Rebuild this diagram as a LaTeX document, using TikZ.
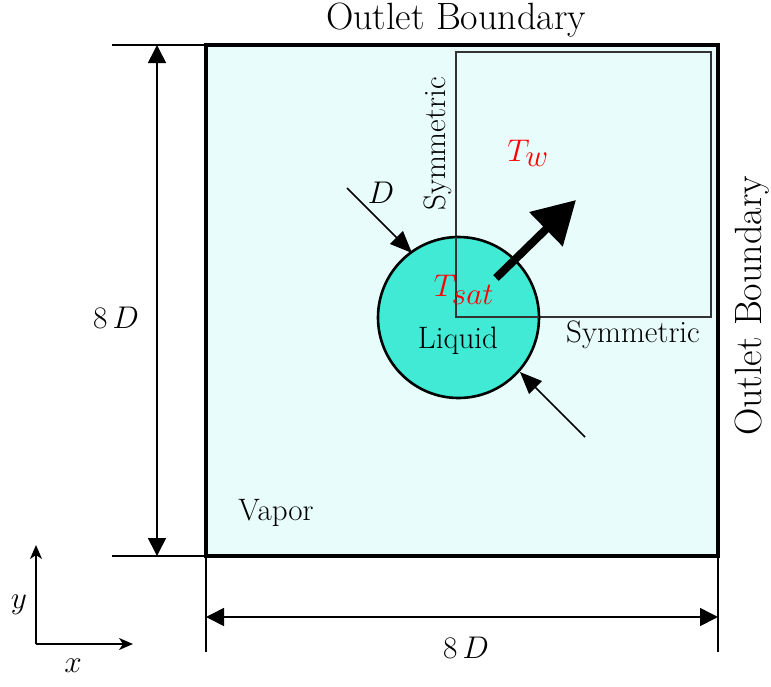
\documentclass[tikz,border=0pt]{standalone}
\usetikzlibrary{arrows.meta}
\definecolor{bgcyan}{RGB}{233,252,252}
\definecolor{dropc}{RGB}{64,234,212}
\begin{document}
\begin{tikzpicture}[x=1pt,y=-1pt,
  txt/.style={font=\fontsize{31}{34}\selectfont, inner sep=0pt},
  bigtxt/.style={font=\fontsize{38}{42}\selectfont, inner sep=0pt},
  mtxt/.style={font=\fontsize{24.88}{28}\selectfont, scale=1.26, inner sep=0pt},
  dimline/.style={line width=1.4pt},
  dimarrow/.style={line width=1.6pt, {Triangle[length=18pt,width=18pt]}-{Triangle[length=18pt,width=18pt]}},
  thinarrow/.style={line width=1.6pt, -{Triangle[length=22pt,width=18pt]}},
  axarrow/.style={line width=1.6pt, -{Stealth[length=14pt,width=12pt,inset=4pt]}},
  hot/.style={text=red}
]
\useasboundingbox (0,0) rectangle (771,686);
% domain
\fill[bgcyan] (206,45) rectangle (718,556);
\draw[gray!40!black, line width=2pt] (456,52) rectangle (711,317);
\node[circle, draw=black, line width=2.6pt, fill=dropc, minimum size=161pt, inner sep=0pt] (drop) at (458.5,317.5) {};
\draw[gray!40!black, line width=2pt] (456,237) -- (456,317) -- (539,317);
\draw[line width=4pt] (206,45) rectangle (718,556);
% dimension lines
\coordinate (tl) at (112,45); \coordinate (tr) at (206,45);
\coordinate (bl) at (112,556); \coordinate (br) at (206,556);
\draw[dimline] (tl) -- (tr);
\draw[dimline] (bl) -- (br);
\coordinate (lt) at (157,45); \coordinate (lb) at (157,556);
\draw[dimarrow] (lt) -- (lb);
\node[mtxt] (ld) at (116,318) {$8\,D$};
\coordinate (vl1) at (206,556); \coordinate (vl2) at (206,652);
\coordinate (vr1) at (718,556); \coordinate (vr2) at (718,652);
\draw[dimline] (vl1) -- (vl2);
\draw[dimline] (vr1) -- (vr2);
\coordinate (hl) at (206,617); \coordinate (hr) at (718,617);
\draw[dimarrow] (hl) -- (hr);
\node[mtxt] (bd) at (466,648) {$8\,D$};
% arrows near droplet
\coordinate (d1) at (347,188); \coordinate (d1t) at (412,253);
\draw[thinarrow] (d1) -- (d1t);
\node[mtxt] (dl) at (381,193) {$D$};
\coordinate (d2) at (585,437); \coordinate (d2t) at (520,372);
\draw[thinarrow] (d2) -- (d2t);
\coordinate (g1) at (496,278); \coordinate (g2) at (576,200);
\draw[line width=8pt, -{Triangle[length=42pt,width=46pt]}] (g1) -- (g2);
% labels
\node[mtxt, hot] (tsat) at (464,290) {$T_{\textstyle sat}$};
\node[mtxt, hot] (tw) at (528,153) {$T_{\textstyle w}$};
\node[txt] (liq) at (458,341) {Liquid};
\node[txt] (vap) at (276,513) {Vapor};
\node[txt, rotate=90] (symv) at (438,144) {Symmetric};
\node[txt] (symh) at (633,335) {Symmetric};
\node[bigtxt] (ob1) at (456,20) {Outlet Boundary};
\node[bigtxt, rotate=90] (ob2) at (752,306) {Outlet Boundary};
% axes
\coordinate (o) at (36,644); \coordinate (ay) at (36,545); \coordinate (ax) at (133,644);
\draw[axarrow] (o) -- (ay);
\draw[axarrow] (o) -- (ax);
\node[mtxt] (yl) at (19,605) {$y$};
\node[mtxt] (xl) at (73,666) {$x$};
\end{tikzpicture}
\end{document}
